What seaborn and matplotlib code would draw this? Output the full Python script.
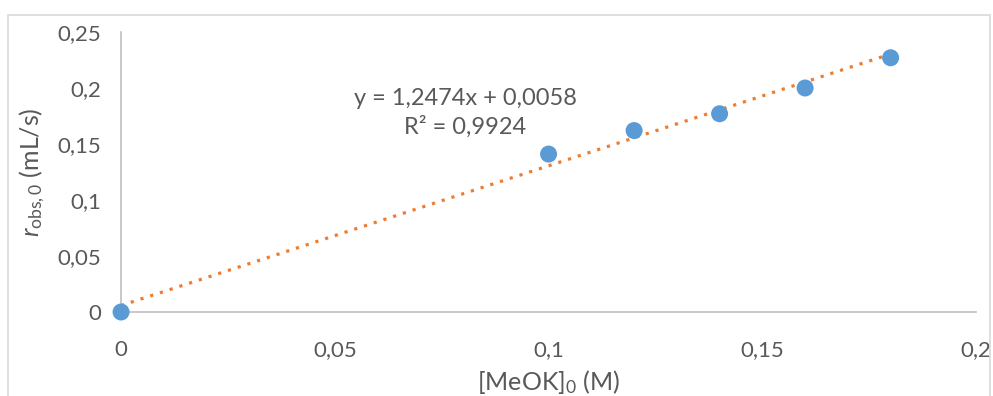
import numpy as np
import pandas as pd
import matplotlib
matplotlib.use("Agg")
import matplotlib.pyplot as plt
import seaborn as sns
from matplotlib.ticker import FuncFormatter

# data
meok = [0.0, 0.10, 0.12, 0.14, 0.16, 0.18]
r_obs = [0.0, 0.141, 0.162, 0.177, 0.200, 0.227]
slope = 1.2474
intercept = 0.0058
r2 = 0.9924

x_ticks = [0, 0.05, 0.1, 0.15, 0.2]
y_ticks = [0, 0.05, 0.1, 0.15, 0.2, 0.25]

df = pd.DataFrame({"x": meok, "y": r_obs})
fit = pd.DataFrame({"x": [min(meok), max(meok)]})
fit["y"] = slope * fit["x"] + intercept

sns.set_style("white")
plt.rcParams['font.family'] = ['Lato', 'DejaVu Sans']
plt.rcParams['mathtext.fontset'] = 'custom'
plt.rcParams['mathtext.rm'] = 'Lato'
plt.rcParams['mathtext.it'] = 'Lato:italic'

txt = "#595959"
axc = "#BFBFBF"

fig = plt.figure(figsize=(9.93, 3.96), dpi=100)
ax = fig.add_axes([0.1219, 0.2121, 0.8611, 0.7071])

# chart border like the spreadsheet chart area
fig.patches.append(plt.Rectangle((8 / 993, -0.05), 982 / 993, 1 - 15 / 396 + 0.05,
                                 transform=fig.transFigure, fill=False,
                                 edgecolor="#D9D9D9", linewidth=1.2))

sns.lineplot(data=fit, x="x", y="y", ax=ax, color="#ED7D31", linestyle=(0, (1, 2.2)),
             linewidth=2.3, zorder=2)
sns.scatterplot(data=df, x="x", y="y", ax=ax, color="#5B9BD5", s=150,
                edgecolor="none", zorder=3, clip_on=False)

ax.set_xlim(0, 0.2)
ax.set_ylim(0, 0.25)
ax.set_xticks(x_ticks)
ax.set_yticks(y_ticks)
fmt = FuncFormatter(lambda v, p: ("%g" % round(v, 4)).replace(".", ","))
ax.xaxis.set_major_formatter(fmt)
ax.yaxis.set_major_formatter(fmt)

for s in ["top", "right"]:
    ax.spines[s].set_visible(False)
for s in ["left", "bottom"]:
    ax.spines[s].set_color(axc)
    ax.spines[s].set_linewidth(1.2)
ax.tick_params(axis="both", direction="out", length=6, width=1.2, color=axc,
               labelsize=16, labelcolor=txt)
ax.tick_params(axis="x", pad=14)
ax.tick_params(axis="y", pad=8)

ax.set_xlabel("[MeOK]$_0$ (M)", fontsize=18, color=txt, labelpad=6)
ax.set_ylabel(r"$r_{\mathrm{obs,0}}$ (mL/s)", fontsize=18, color=txt, labelpad=8)

ax.text(0.0805, 0.191, "y = 1,2474x + 0,0058", ha="center", va="center",
        fontsize=17, color=txt)
ax.text(0.0805, 0.165, "R² = " + ("%g" % r2).replace(".", ","), ha="center",
        va="center", fontsize=17, color=txt)

fig.savefig("out.png", dpi=100)
